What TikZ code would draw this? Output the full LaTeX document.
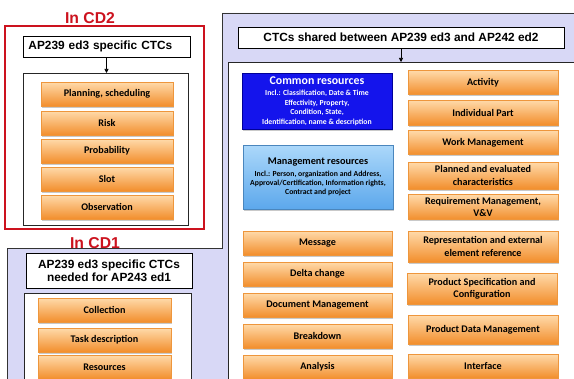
\documentclass[tikz,border=0pt]{standalone}
\usepackage{fontspec}
\setmainfont{Carlito}
\newfontfamily\headfont{Liberation Sans}
\usetikzlibrary{shadows,arrows.meta}

\definecolor{lavender}{RGB}{216,216,246}
\definecolor{orangetop}{RGB}{255,218,170}
\definecolor{orangemid}{RGB}{250,165,72}
\definecolor{orangebot}{RGB}{242,142,44}
\definecolor{orangeedge}{RGB}{238,150,60}
\definecolor{commonblue}{RGB}{20,20,236}
\definecolor{mgmttop}{RGB}{172,216,250}
\definecolor{mgmtbot}{RGB}{92,168,236}
\definecolor{cdred}{RGB}{204,18,30}

\tikzset{
  ctc/.style={draw=orangeedge, line width=0.4pt, top color=orangetop, middle color=orangemid, bottom color=orangebot,
    drop shadow={shadow xshift=0.8pt, shadow yshift=-1.2pt, opacity=0.35, fill=black!60},
    font=\bfseries\fontsize{7.6}{9.3}\selectfont, align=center, inner sep=0pt},
  cdtwo/.style={ctc, minimum width=99pt, minimum height=18pt},
  cdone/.style={ctc, minimum width=99.75pt, minimum height=18pt},
  leftcol/.style={ctc, minimum width=111.75pt, minimum height=18pt},
  rightcol/.style={ctc, minimum width=112.5pt},
  ctctitle/.style={draw=black, fill=white, line width=0.6pt, inner sep=0pt,
    font=\headfont\bfseries\fontsize{8.9}{10}\selectfont, align=center},
  panel/.style={draw=black!85, fill=white, line width=0.6pt, inner sep=0pt, anchor=north west},
  cdlabel/.style={text=cdred, font=\headfont\bfseries\fontsize{11.8}{14}\selectfont, anchor=base, inner sep=0pt},
  arr/.style={-{Triangle[length=3pt,width=3pt]}, line width=0.5pt}
}

\begin{document}
\begin{tikzpicture}[x=0.75pt,y=0.75pt,yscale=-1,xscale=1]
\clip (0,0) rectangle (574,378);

%Shape: lavender background
\draw [draw=black!80, fill=lavender, line width=0.6pt] (222,13) -- (580,13) -- (580,385) -- (7,385) -- (7,248) -- (222,248) -- cycle ;
%Shape: red frame
\draw [cdred, line width=1.1pt, fill=white] (5,26) rectangle (204,229) ;

% Text Node
\node [cdlabel] (incdtwo) at (90,23.5) {In CD2};
\node [cdlabel] (incdone) at (95,248) {In CD1};

%In CD2
\node [panel, minimum width=123.75pt, minimum height=114pt] (cdtwo-body) at (23,73) {};
\node [ctctitle, minimum width=125.25pt, minimum height=15.75pt, text width=117pt, align=left] (cdtwo-title) at (106.5,46.5) {AP239 ed3 specific CTCs};
\draw [arr] (cdtwo-title.south) -- (cdtwo-title.south |- cdtwo-body.north) ;

\node [cdtwo] (plan) at (107,94) {Planning, scheduling};
\node [cdtwo] (risk) at (107,123) {Risk};
\node [cdtwo] (prob) at (107,151) {Probability};
\node [cdtwo] (slot) at (107,179) {Slot};
\node [cdtwo] (obs) at (107,207) {Observation};

%In CD1
\node [ctctitle, minimum width=124.5pt, minimum height=26.25pt] (cdone-title) at (109,270.5) {AP239 ed3 specific CTCs\\needed for AP243 ed1};
\node [panel, minimum width=125.25pt, minimum height=75pt] (cdone-body) at (24,293) {};

\node [cdone] (coll) at (104.5,310) {Collection};
\node [cdone] (task) at (104.5,340) {Task description};
\node [cdone] (res) at (104.5,367) {Resources};

%shared CTCs
\node [panel, minimum width=270pt, minimum height=247.5pt] (shared-body) at (228,62) {};
\node [ctctitle, minimum width=244.5pt, minimum height=15.75pt] (shared-title) at (401,37.5) {CTCs shared between AP239 ed3 and AP242 ed2};
\draw [arr] (shared-title.south) -- (shared-title.south |- shared-body.north) ;

\node [draw=blue!60!black, line width=0.4pt, fill=commonblue, text=white, align=center, inner sep=0pt,
  minimum width=112.5pt, minimum height=42pt, drop shadow={shadow xshift=0.8pt, shadow yshift=-1.2pt, opacity=0.35, fill=black!60},
  font=\bfseries\fontsize{5.8}{7.1}\selectfont] (common) at (317,101)
  {{\fontsize{8.9}{7.1}\selectfont Common resources}\\[1.5pt]Incl.: Classification, Date \& Time\\Effectivity, Property,\\Condition, State,\\Identification, name \& description};
\node [draw=mgmtbot!80!black, line width=0.4pt, top color=mgmttop, bottom color=mgmtbot, align=center, inner sep=0pt,
  minimum width=112.5pt, minimum height=48pt, drop shadow={shadow xshift=0.8pt, shadow yshift=-1.2pt, opacity=0.35, fill=black!60},
  font=\bfseries\fontsize{5.8}{6.8}\selectfont] (mgmt) at (318,177)
  {{\fontsize{7.7}{6.8}\selectfont Management resources}\\[2.2pt]Incl.: Person, organization and Address,\\Approval/Certification, Information rights,\\Contract and project};

\node [leftcol] (msg) at (317.5,243) {Message};
\node [leftcol] (delta) at (317.5,274) {Delta change};
\node [leftcol] (doc) at (317.5,305) {Document Management};
\node [leftcol] (brk) at (317.5,336) {Breakdown};
\node [leftcol] (ana) at (317.5,367) {Analysis};

\node [rightcol, minimum height=18pt] (act) at (483,82.5) {Activity};
\node [rightcol, minimum height=18.75pt] (indiv) at (483,112.5) {Individual Part};
\node [rightcol, minimum height=18pt] (work) at (483,142.5) {Work Management};
\node [rightcol, minimum height=20.25pt] (plnd) at (483,175.5) {Planned and evaluated\\characteristics};
\node [rightcol, minimum height=18.75pt] (req) at (483,207) {Requirement Management,\\V\&V};
\node [rightcol, minimum height=23.25pt] (repr) at (483,246.5) {Representation and external\\element reference};
\node [rightcol, minimum height=23.25pt] (spec) at (482,288.5) {Product Specification and\\Configuration};
\node [rightcol, minimum height=21.75pt] (pdm) at (483,329.5) {Product Data Management};
\node [rightcol, minimum height=18pt] (intf) at (483,366) {Interface};

\end{tikzpicture}
\end{document}
